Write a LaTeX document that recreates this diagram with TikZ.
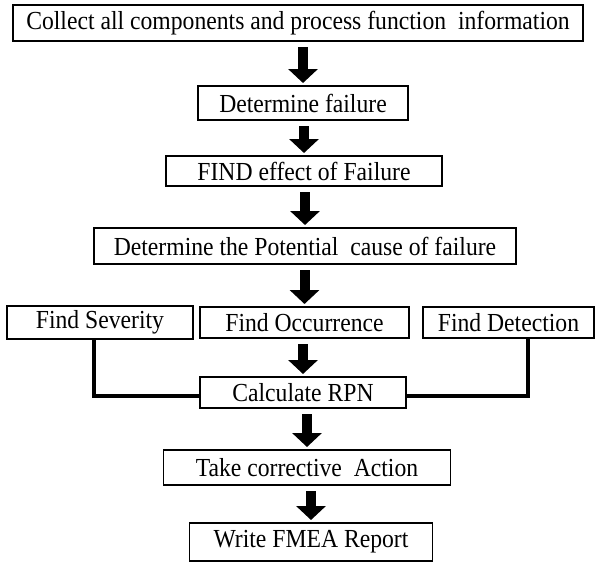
\documentclass[tikz,border=0pt]{standalone}
\usepackage{fontspec}
\setmainfont{Liberation Serif}[FakeStretch=0.91]
\usetikzlibrary{arrows.meta,positioning}

\begin{document}
\begin{tikzpicture}[x=1pt,y=-1pt,
                    box/.style={draw,line width=1.5pt,minimum height=33pt,
                                inner sep=0pt,outer sep=0pt,
                                font=\fontsize{26}{28}\selectfont},
                    flow/.style={line width=10pt,
                                 -{Triangle[width=29pt,length=14pt]},
                                 shorten <=6pt,shorten >=3pt},
                    link/.style={line width=4pt}]
      \useasboundingbox (0,0) rectangle (596,563);
      \node[box,minimum width=570pt,minimum height=36pt] (collect) at (298,23)
            {Collect all components and process function\ \ information};
      \node[box,minimum width=210pt,minimum height=34pt] (fail)   at (303,103)   {Determine failure};
      \node[box,minimum width=276pt,minimum height=30pt] (effect) at (304,171)   {FIND effect of Failure};
      \node[box,minimum width=422pt,minimum height=36pt] (cause)  at (305,246)   {Determine the Potential\ \ cause of failure};
      \node[box,minimum width=209pt,minimum height=31pt] (occ)    at (304.5,322.5) {Find Occurrence};
      \node[box,minimum width=186pt] (sev)    [left=7pt of occ]  {Find Severity};
      \node[box,minimum width=171pt,minimum height=31pt] (det)    [right=14pt of occ] {Find Detection};
      \node[box,minimum width=206pt,minimum height=31pt] (rpn)    at (303,392.5) {Calculate RPN};
      \node[box,minimum width=287pt,minimum height=35pt] (take)   at (307,467.5) {Take corrective\ \ Action};
      \node[box,minimum width=243pt,minimum height=38pt] (report) at (311,542)   {Write FMEA Report};
      % main flow
      \draw[flow] (collect.south -| fail) -- (fail);
      \draw[flow] (fail.south -| effect)  -- (effect);
      \draw[flow] (effect.south -| cause) -- (cause);
      \draw[flow] (cause.south -| occ)    -- (occ);
      \draw[flow] (occ.south -| rpn)      -- (rpn);
      \draw[flow] (rpn.south -| take)     -- (take);
      \draw[flow] (take.south -| report)  -- (report);
      % side inputs
      \draw[link] ([xshift=-6pt]sev.south) |- ([yshift=-3.5pt]rpn.west);
      \draw[link] ([xshift=19pt]det.south) |- ([yshift=-3.5pt]rpn.east);
\end{tikzpicture}
\end{document}
